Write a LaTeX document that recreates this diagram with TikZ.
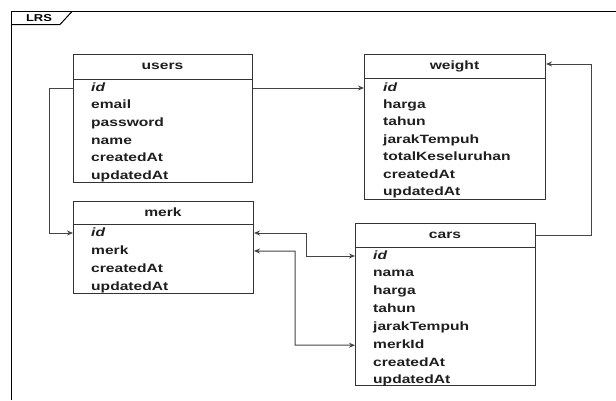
\documentclass[tikz,border=0pt]{standalone}
\usepackage{fontspec}
\setmainfont{Liberation Sans}[FakeStretch=1.3]
\usetikzlibrary{arrows.meta}
\definecolor{boxline}{HTML}{333333}
\definecolor{linkline}{HTML}{444444}
\definecolor{ink}{HTML}{1E1E1E}

\begin{document}
\begin{tikzpicture}[x=1pt,y=-1pt,
  tbl/.style={draw=boxline, line width=1pt, anchor=north west, inner sep=0pt},
  head/.style={font=\fontsize{12}{14}\selectfont\bfseries, inner sep=0pt, text=ink},
  fld/.style={font=\fontsize{12}{14}\selectfont\bfseries, anchor=west, inner sep=0pt,
              text height=9pt, text depth=3pt, text=ink},
  key/.style={fld, font=\fontsize{12}{14}\selectfont\bfseries\itshape},
  link/.style={draw=linkline, line width=1pt},
  tip/.style={-{Stealth[length=6pt,width=5pt]}},
  tips/.style={{Stealth[length=6pt,width=5pt]}-{Stealth[length=6pt,width=5pt]}},
]
\useasboundingbox (0,0) rectangle (616,400);

% package frame with its name tab
\draw[line width=1.3pt] (11.5,400) -- (11.5,11.5) -- (616,11.5);
\draw[line width=1pt] (11.5,24.5) -- (60,24.5) -- (72,11.5);
\node[font=\fontsize{10}{12}\selectfont\bfseries, inner sep=0pt] (lrs) at (39,18) {LRS};

% ---- users ----
\node[tbl, minimum width=179pt, minimum height=128pt] (users) at (73,54) {};
\draw[boxline, line width=1pt] (73,79) -- (252,79);
\node[head] (users-head) at (162.5,66.5) {users};
\node[key] (users-id) at (91,88) {id};
\foreach \f [count=\i] in {email,password,name,createdAt,updatedAt}
  \node[fld] (users-\f) at (91,88+17.7*\i) {\f};

% ---- weight ----
\node[tbl, minimum width=181pt, minimum height=145pt] (weight) at (364,54) {};
\draw[boxline, line width=1pt] (364,78) -- (545,78);
\node[head] (weight-head) at (454.5,66) {weight};
\node[key] (weight-id) at (383,88) {id};
\foreach \f [count=\i] in {harga,tahun,jarakTempuh,totalKeseluruhan,createdAt,updatedAt}
  \node[fld] (weight-\f) at (383,88+17.4*\i) {\f};

% ---- merk ----
\node[tbl, minimum width=180pt, minimum height=92pt] (merk) at (73,201) {};
\draw[boxline, line width=1pt] (73,224) -- (253,224);
\node[head] (merk-head) at (163,212.5) {merk};
\node[key] (merk-id) at (91,233) {id};
\foreach \f [count=\i] in {merk,createdAt,updatedAt}
  \node[fld] (merk-\f) at (91,233+18*\i) {\f};

% ---- cars ----
\node[tbl, minimum width=180pt, minimum height=162pt] (cars) at (355,223) {};
\draw[boxline, line width=1pt] (355,247) -- (535,247);
\node[head] (cars-head) at (445,235) {cars};
\node[key] (cars-id) at (373,256) {id};
\foreach \f [count=\i] in {nama,harga,tahun,jarakTempuh,merkId,createdAt,updatedAt}
  \node[fld] (cars-\f) at (373,256+17.85*\i) {\f};

% ---- relations ----
\draw[link,tip] (users.east |- users-id) -- (weight.west |- weight-id);
\draw[link,tip] (users.west |- users-id) -- (49,88) -- (49,233) -- (merk.west |- merk-id);
\draw[link,tip] (cars.east |- cars-head) -- (591,235) -- (591,64) -- (weight.east |- 0,64);
\draw[link,tips] (merk.east |- merk-id) -- (306,233) -- (306,256) -- (cars.west |- cars-id);
\draw[link,tips] (merk.east |- merk-merk) -- (295,251) -- (295,345) -- (cars.west |- cars-merkId);
\end{tikzpicture}
\end{document}
